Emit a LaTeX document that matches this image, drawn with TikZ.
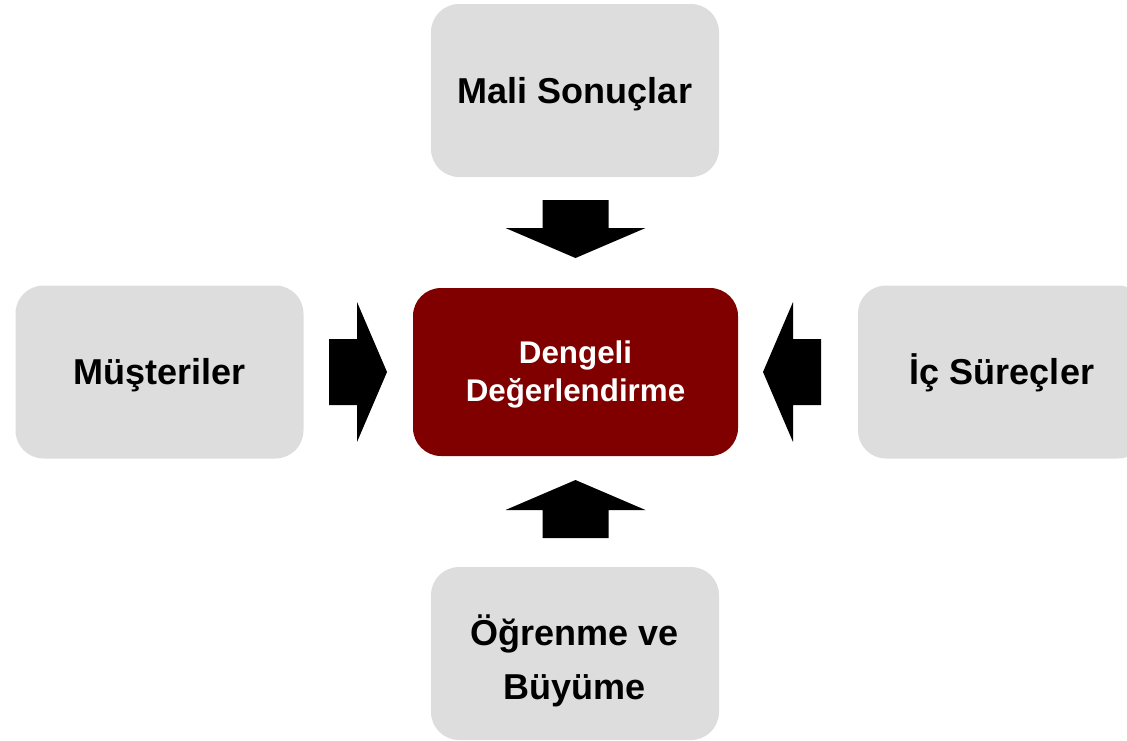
\documentclass[tikz,border=0pt]{standalone}
\usepackage{fontspec}
\setmainfont{Liberation Sans}
\definecolor{panelgray}{RGB}{221,221,221}
\definecolor{corered}{RGB}{128,0,0}
\begin{document}
\begin{tikzpicture}[x=0.75pt,y=-0.75pt,
  panel/.style={rectangle, rounded corners=21pt, fill=panelgray, draw=none,
    minimum width=216pt, minimum height=129.75pt, inner sep=0pt, outer sep=0pt,
    text height=19.4pt, text depth=0pt,
    font=\fontsize{27}{40.5}\selectfont\bfseries},
  core/.style={rectangle, rounded corners=21pt, fill=corered, draw=none,
    minimum width=243.75pt, minimum height=126pt, inner sep=0pt, outer sep=0pt},
  label/.style={inner sep=0pt, align=center, font=\fontsize{27}{40.5}\selectfont\bfseries},
  corelabel/.style={inner sep=0pt, align=center, text=white,
    font=\fontsize{23.5}{28.3}\selectfont\bfseries},
  blockarrow/.style={fill=black, draw=none},
  inarrow/.pic={\path[blockarrow] (-33,0) -- (33,0) -- (33,28) -- (70,28) -- (0,58)
      -- (-70,28) -- (-33,28) -- cycle;}]
\useasboundingbox (0,0) rectangle (1127,740);
\clip (0,0) rectangle (1127,740);

% four perspective panels and the central card
\node[panel] (fin) at (575,90.5) {Mali Sonuçlar};
\node[panel] (cust) at (159.5,372) {Müşteriler};
\node[panel] (proc) at (1002,372) {İç Süreçler};
\node[panel] (learn) at (575,653.5) {};
\node[label] (learntext) at (575,661) {Öğrenme ve\\Büyüme};
\node[core] (bsc) at (575.5,372) {};
\node[corelabel] (bsctext) at (575.5,374.5) {Dengeli\\Değerlendirme};

% block arrows pointing into the central card
\pic[rotate=0] (afin) at (575.5,200) {inarrow};
\pic[rotate=180] (alearn) at (575.5,538) {inarrow};
\pic[rotate=90] (acust) at (329,372) {inarrow};
\pic[rotate=-90] (aproc) at (821,372) {inarrow};
\end{tikzpicture}
\end{document}
